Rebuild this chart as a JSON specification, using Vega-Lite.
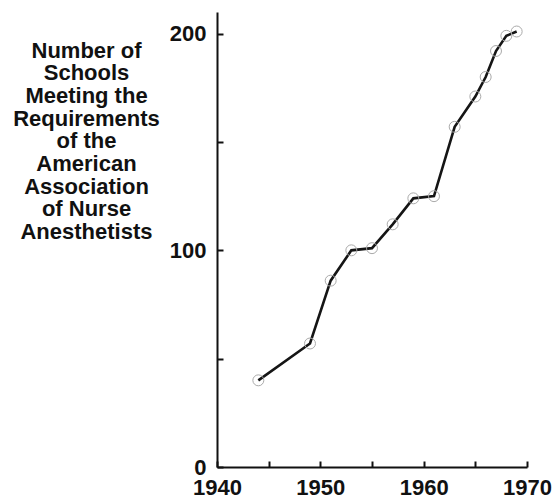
{
  "$schema": "https://vega.github.io/schema/vega-lite/v6.json",
  "width": 310,
  "height": 455,
  "autosize": {"type": "none"},
  "padding": {"left": 217, "top": 12, "right": 27, "bottom": 33},
  "background": "white",
  "config": {"view": {"stroke": null}, "font": "Liberation Sans"},
  "data": {"values": [
    {"year": 1944, "schools": 40},
    {"year": 1949, "schools": 57},
    {"year": 1951, "schools": 86},
    {"year": 1953, "schools": 100},
    {"year": 1955, "schools": 101},
    {"year": 1957, "schools": 112},
    {"year": 1959, "schools": 124},
    {"year": 1961, "schools": 125},
    {"year": 1963, "schools": 157},
    {"year": 1965, "schools": 171},
    {"year": 1966, "schools": 180},
    {"year": 1967, "schools": 192},
    {"year": 1968, "schools": 199},
    {"year": 1969, "schools": 201}
  ]},
  "encoding": {
    "x": {"field": "year", "type": "quantitative",
      "scale": {"domain": [1940, 1970], "nice": false, "zero": false},
      "axis": {"values": [1940,1945,1950,1955,1960,1965,1970],
        "labelExpr": "datum.value % 10 == 0 ? datum.label : ''",
        "format": "d", "grid": false, "title": null,
        "domainColor": "#111", "domainWidth": 2, "tickColor": "#111", "tickWidth": 2, "tickSize": -6,
        "labelFont": "Liberation Sans", "labelFontWeight": "bold", "labelFontSize": 22, "labelColor": "#111",
        "labelPadding": 16, "labelFlush": false, "labelOverlap": false}},
    "y": {"field": "schools", "type": "quantitative",
      "scale": {"domain": [0, 210], "nice": false},
      "axis": {"values": [0, 50, 100, 150, 200],
        "labelExpr": "datum.value % 100 == 0 ? datum.label : ''",
        "grid": false,
        "title": ["Number of", "Schools", "Meeting the", "Requirements", "of the", "American", "Association", "of Nurse", "Anesthetists"],
        "titleAngle": 0, "titleAlign": "center", "titleBaseline": "alphabetic",
        "titleX": -131, "titleY": 45, "titleFont": "Liberation Sans", "titleFontWeight": "bold",
        "titleFontSize": 22, "titleLineHeight": 22.7, "titleColor": "#111",
        "domainColor": "#111", "domainWidth": 2, "tickColor": "#111", "tickWidth": 2, "tickSize": -6,
        "labelFont": "Liberation Sans", "labelFontWeight": "bold", "labelFontSize": 22, "labelColor": "#111",
        "labelPadding": 17, "labelFlush": false, "labelOverlap": false}}
  },
  "layer": [
    {"mark": {"type": "line", "color": "#151515", "strokeWidth": 2.6}},
    {"mark": {"type": "point", "shape": "circle", "filled": false, "size": 120, "stroke": "#aaaaaa", "strokeWidth": 1, "opacity": 1}}
  ]
}
